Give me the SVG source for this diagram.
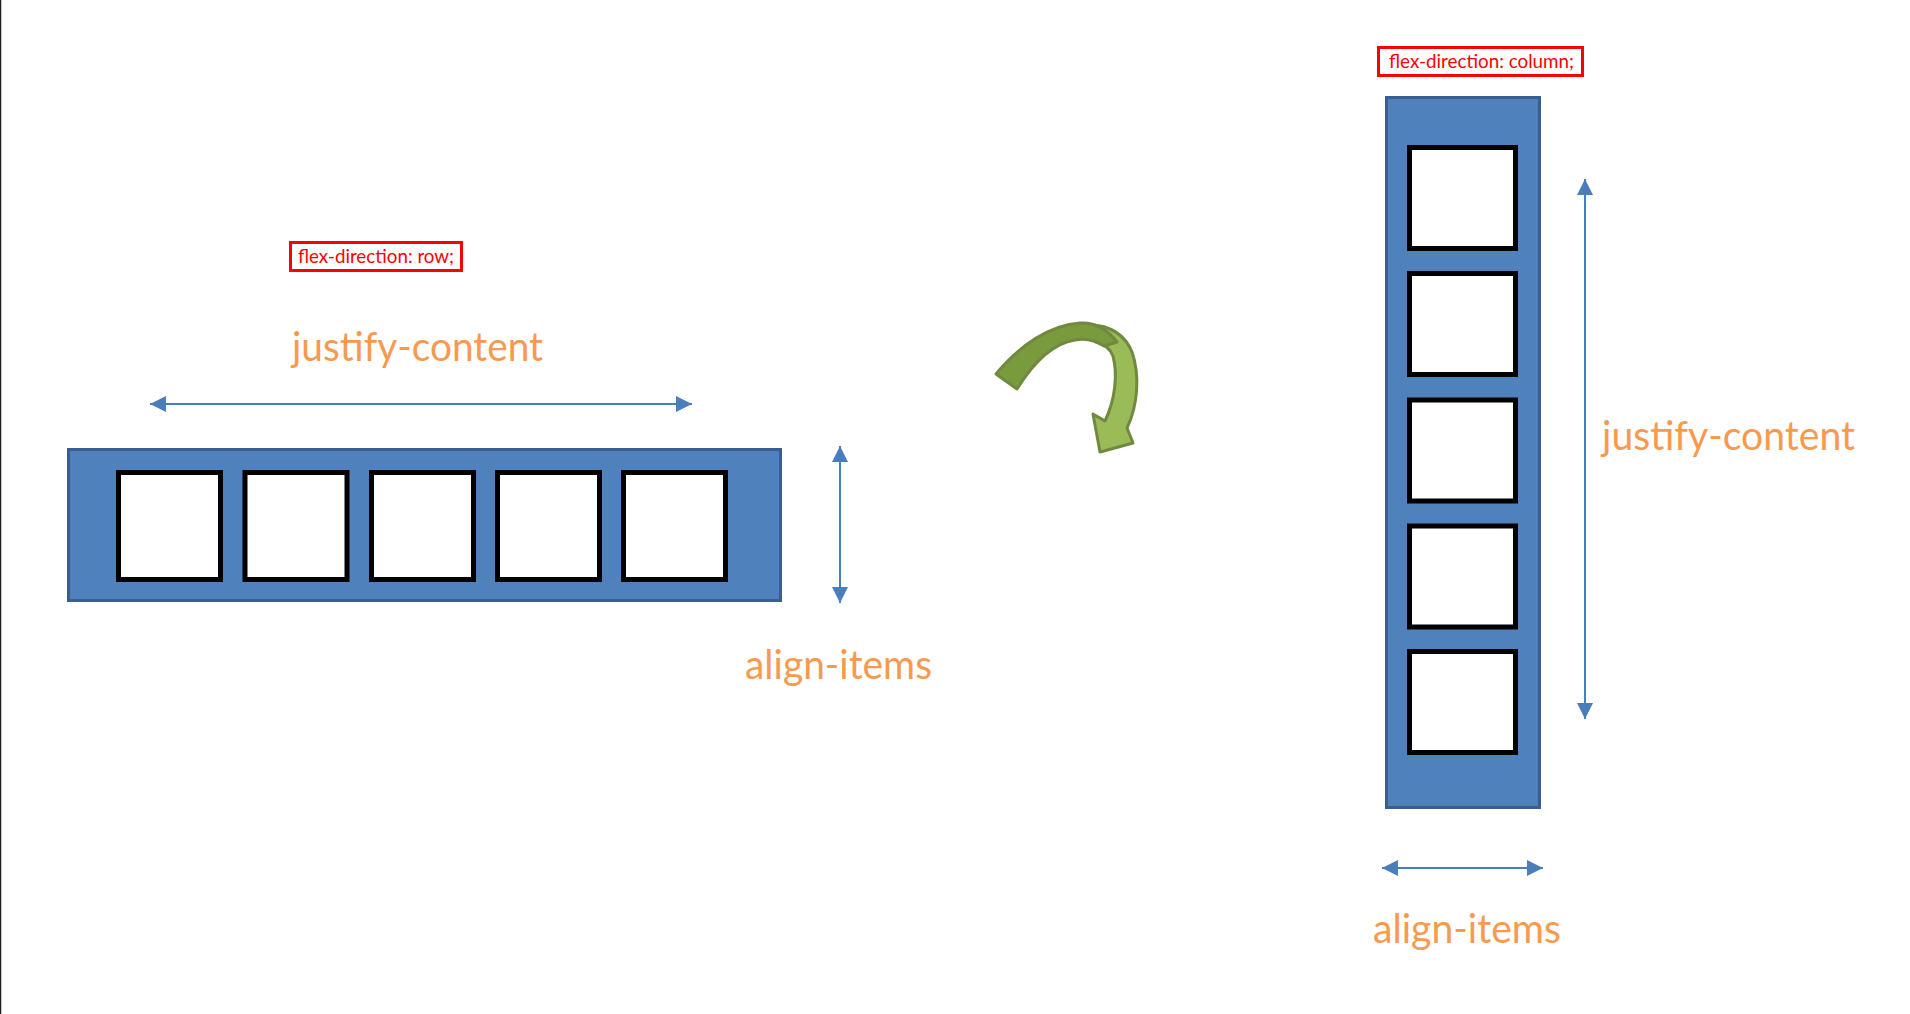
<svg xmlns="http://www.w3.org/2000/svg" width="1910" height="1014" viewBox="0 0 1910 1014">
<style>
.container{fill:#4F81BD;stroke:#3A5F8E;stroke-width:3}
.item{fill:#FFFFFF;stroke:#000000;stroke-width:5}
.label{font-family:Lato,"Open Sans","Liberation Sans",sans-serif;font-size:40px;fill:#F79A4E}
.tag{fill:#FFFFFF;stroke:#FF0000;stroke-width:3}
.tagtext{font-family:Lato,"Open Sans","Liberation Sans",sans-serif;font-size:19px;fill:#FF0000}
.conn{stroke:#4A7EBB;stroke-width:2;fill:none}
</style>
<defs>
<marker id="ah" viewBox="0 0 16 16" refX="16" refY="8" markerWidth="16" markerHeight="16" markerUnits="userSpaceOnUse" orient="auto-start-reverse">
<path d="M0,0 L16,8 L0,16 Z" fill="#4A7EBB"/>
</marker>
</defs>
<rect x="0" y="0" width="1910" height="1014" fill="#FFFFFF"/>
<line x1="0.5" y1="0" x2="0.5" y2="1014" stroke="#1E1E1E" stroke-width="1.5"/>

<g id="row-tag">
<rect class="tag" x="290.5" y="242.5" width="171" height="28"/>
<text class="tagtext" x="298" y="263" textLength="156" lengthAdjust="spacingAndGlyphs">flex-direction: row;</text>
</g>
<g id="row-justify-label">
<text class="label" x="292" y="360.5" textLength="251" lengthAdjust="spacingAndGlyphs">justify-content</text>
</g>
<g id="row-container">
<rect class="container" x="68.5" y="449.5" width="712" height="151"/>
<rect class="item" x="118.5" y="472.5" width="102" height="107"/>
<rect class="item" x="245" y="472.5" width="102" height="107"/>
<rect class="item" x="371.5" y="472.5" width="102" height="107"/>
<rect class="item" x="497.5" y="472.5" width="102" height="107"/>
<rect class="item" x="623.5" y="472.5" width="102" height="107"/>
</g>
<g id="row-align-label">
<text class="label" x="745" y="678.5" textLength="187" lengthAdjust="spacingAndGlyphs">align-items</text>
</g>

<g id="rotate-arrow">
<path d="M1090,325 C1110,325 1125,335 1132,352 C1140,375 1138,405 1127,428 L1133,443 L1100,452 L1093,414 L1105,421 C1115,400 1118,375 1113,356 C1110,348 1104,344 1096,342 Z" fill="#9BBB59" stroke="#71893F" stroke-width="3" stroke-linejoin="round"/>
<path d="M996,374 C1020,345 1050,325 1080,323 C1096,322 1108,330 1117,342 L1104,346 C1095,340 1085,338 1075,340 C1055,343 1035,360 1017,389 Z" fill="#7A9A3E" stroke="#71893F" stroke-width="3" stroke-linejoin="round"/>
</g>

<g id="col-tag">
<rect class="tag" x="1378.5" y="47.5" width="204" height="28"/>
<text class="tagtext" x="1389" y="68" textLength="185" lengthAdjust="spacingAndGlyphs">flex-direction: column;</text>
</g>
<g id="col-container">
<rect class="container" x="1386.5" y="97.5" width="153" height="710"/>
<rect class="item" x="1409.5" y="147.5" width="106" height="101"/>
<rect class="item" x="1409.5" y="273.5" width="106" height="101"/>
<rect class="item" x="1409.5" y="400" width="106" height="101"/>
<rect class="item" x="1409.5" y="526" width="106" height="101"/>
<rect class="item" x="1409.5" y="651.5" width="106" height="101"/>
</g>
<g id="col-justify-label">
<text class="label" x="1602" y="449.5" textLength="253" lengthAdjust="spacingAndGlyphs">justify-content</text>
</g>
<g id="col-align-label">
<text class="label" x="1373" y="942.5" textLength="188" lengthAdjust="spacingAndGlyphs">align-items</text>
</g>

<g id="connectors">
<line class="conn" x1="150" y1="404" x2="692" y2="404" marker-start="url(#ah)" marker-end="url(#ah)"/>
<line class="conn" x1="840" y1="446" x2="840" y2="603" marker-start="url(#ah)" marker-end="url(#ah)"/>
<line class="conn" x1="1585" y1="179" x2="1585" y2="719" marker-start="url(#ah)" marker-end="url(#ah)"/>
<line class="conn" x1="1382" y1="868" x2="1543" y2="868" marker-start="url(#ah)" marker-end="url(#ah)"/>
</g>
</svg>
